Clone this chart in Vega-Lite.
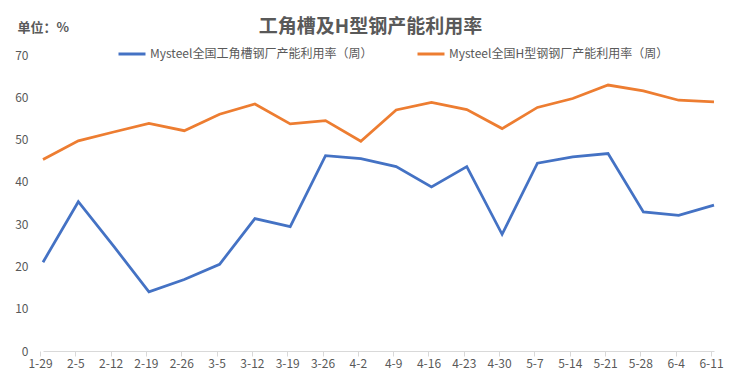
{
  "$schema": "https://vega.github.io/schema/vega-lite/v6.json",
  "width": 675,
  "height": 296,
  "autosize": {"type": "none"},
  "padding": {"left": 40, "top": 55, "right": 25, "bottom": 39},
  "background": "#FFFFFF",
  "config": {
    "view": {"stroke": null},
    "font": "Noto Sans CJK SC"
  },
  "title": {
    "text": "工角槽及H型钢产能利用率",
    "fontSize": 19,
    "fontWeight": "bold",
    "color": "#595959",
    "anchor": "middle",
    "frame": "group",
    "dx": -7,
    "offset": -16
  },
  "data": {
    "values": [
      {"date": "1-29", "series": "Mysteel全国工角槽钢厂产能利用率（周）", "value": 21.0},
      {"date": "2-5", "series": "Mysteel全国工角槽钢厂产能利用率（周）", "value": 35.3},
      {"date": "2-12", "series": "Mysteel全国工角槽钢厂产能利用率（周）", "value": 24.8},
      {"date": "2-19", "series": "Mysteel全国工角槽钢厂产能利用率（周）", "value": 14.0},
      {"date": "2-26", "series": "Mysteel全国工角槽钢厂产能利用率（周）", "value": 16.9},
      {"date": "3-5", "series": "Mysteel全国工角槽钢厂产能利用率（周）", "value": 20.5},
      {"date": "3-12", "series": "Mysteel全国工角槽钢厂产能利用率（周）", "value": 31.3},
      {"date": "3-19", "series": "Mysteel全国工角槽钢厂产能利用率（周）", "value": 29.4},
      {"date": "3-26", "series": "Mysteel全国工角槽钢厂产能利用率（周）", "value": 46.2},
      {"date": "4-2", "series": "Mysteel全国工角槽钢厂产能利用率（周）", "value": 45.5},
      {"date": "4-9", "series": "Mysteel全国工角槽钢厂产能利用率（周）", "value": 43.6},
      {"date": "4-16", "series": "Mysteel全国工角槽钢厂产能利用率（周）", "value": 38.8},
      {"date": "4-23", "series": "Mysteel全国工角槽钢厂产能利用率（周）", "value": 43.6},
      {"date": "4-30", "series": "Mysteel全国工角槽钢厂产能利用率（周）", "value": 27.6},
      {"date": "5-7", "series": "Mysteel全国工角槽钢厂产能利用率（周）", "value": 44.4},
      {"date": "5-14", "series": "Mysteel全国工角槽钢厂产能利用率（周）", "value": 45.9},
      {"date": "5-21", "series": "Mysteel全国工角槽钢厂产能利用率（周）", "value": 46.7},
      {"date": "5-28", "series": "Mysteel全国工角槽钢厂产能利用率（周）", "value": 32.9},
      {"date": "6-4", "series": "Mysteel全国工角槽钢厂产能利用率（周）", "value": 32.1},
      {"date": "6-11", "series": "Mysteel全国工角槽钢厂产能利用率（周）", "value": 34.5},
      {"date": "1-29", "series": "Mysteel全国H型钢钢厂产能利用率（周）", "value": 45.3},
      {"date": "2-5", "series": "Mysteel全国H型钢钢厂产能利用率（周）", "value": 49.7},
      {"date": "2-12", "series": "Mysteel全国H型钢钢厂产能利用率（周）", "value": 51.8},
      {"date": "2-19", "series": "Mysteel全国H型钢钢厂产能利用率（周）", "value": 53.8},
      {"date": "2-26", "series": "Mysteel全国H型钢钢厂产能利用率（周）", "value": 52.1},
      {"date": "3-5", "series": "Mysteel全国H型钢钢厂产能利用率（周）", "value": 56.0},
      {"date": "3-12", "series": "Mysteel全国H型钢钢厂产能利用率（周）", "value": 58.4},
      {"date": "3-19", "series": "Mysteel全国H型钢钢厂产能利用率（周）", "value": 53.7},
      {"date": "3-26", "series": "Mysteel全国H型钢钢厂产能利用率（周）", "value": 54.5},
      {"date": "4-2", "series": "Mysteel全国H型钢钢厂产能利用率（周）", "value": 49.6},
      {"date": "4-9", "series": "Mysteel全国H型钢钢厂产能利用率（周）", "value": 57.0},
      {"date": "4-16", "series": "Mysteel全国H型钢钢厂产能利用率（周）", "value": 58.8},
      {"date": "4-23", "series": "Mysteel全国H型钢钢厂产能利用率（周）", "value": 57.1},
      {"date": "4-30", "series": "Mysteel全国H型钢钢厂产能利用率（周）", "value": 52.6},
      {"date": "5-7", "series": "Mysteel全国H型钢钢厂产能利用率（周）", "value": 57.6},
      {"date": "5-14", "series": "Mysteel全国H型钢钢厂产能利用率（周）", "value": 59.7},
      {"date": "5-21", "series": "Mysteel全国H型钢钢厂产能利用率（周）", "value": 62.9},
      {"date": "5-28", "series": "Mysteel全国H型钢钢厂产能利用率（周）", "value": 61.5},
      {"date": "6-4", "series": "Mysteel全国H型钢钢厂产能利用率（周）", "value": 59.3},
      {"date": "6-11", "series": "Mysteel全国H型钢钢厂产能利用率（周）", "value": 58.9}
    ]
  },
  "mark": {"type": "line", "strokeWidth": 2.75, "strokeJoin": "miter"},
  "encoding": {
    "x": {
      "field": "date",
      "type": "ordinal",
      "sort": null,
      "scale": {"type": "point", "range": [3, 674], "padding": 0},
      "axis": {
        "title": null,
        "labelAngle": 0,
        "labelFontSize": 12,
        "labelColor": "#595959",
        "labelPadding": 2,
        "domainColor": "#D9D9D9",
        "tickColor": "#D9D9D9",
        "tickSize": 5,
        "tickOffset": -3,
        "grid": false
      }
    },
    "y": {
      "field": "value",
      "type": "quantitative",
      "scale": {"domain": [0, 70], "nice": false},
      "axis": {
        "values": [0, 10, 20, 30, 40, 50, 60, 70],
        "grid": false,
        "domain": false,
        "ticks": false,
        "tickSize": 0,
        "labelPadding": 12,
        "labelFontSize": 12,
        "labelColor": "#595959",
        "title": "单位：%",
        "titleAngle": 0,
        "titleAlign": "left",
        "titleBaseline": "middle",
        "titleX": -23,
        "titleY": -28,
        "titleFontSize": 13,
        "titleFontWeight": "bold",
        "titleColor": "#595959"
      }
    },
    "color": {
      "field": "series",
      "type": "nominal",
      "scale": {
        "domain": ["Mysteel全国工角槽钢厂产能利用率（周）", "Mysteel全国H型钢钢厂产能利用率（周）"],
        "range": ["#4472C4", "#ED7D31"]
      },
      "legend": {
        "title": null,
        "orient": "none",
        "legendX": 77,
        "legendY": -16,
        "direction": "horizontal",
        "symbolType": "stroke",
        "symbolSize": 729,
        "symbolStrokeWidth": 3,
        "labelFontSize": 12,
        "labelColor": "#595959",
        "labelOffset": 3,
        "labelLimit": 400,
        "columnPadding": 38
      }
    }
  }
}
